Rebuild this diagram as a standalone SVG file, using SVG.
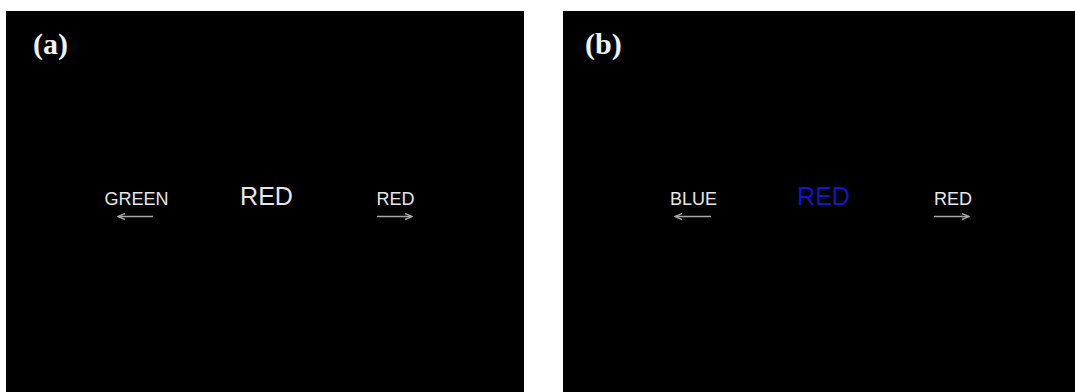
<svg xmlns="http://www.w3.org/2000/svg" width="1075" height="392" viewBox="0 0 1075 392">
<style>
.panel{fill:#000}
.lbl{font-family:"Liberation Serif","Times New Roman",serif;font-weight:bold;font-size:30px;fill:#f2f2f2}
.word{font-family:"Liberation Sans",Arial,sans-serif;font-size:18px;fill:#e6e6e6;text-anchor:middle}
.big{font-size:25px}
.arrow{stroke:#a8a8a8;stroke-width:1.5;fill:none}
</style>
<defs>
<marker id="head" viewBox="0 0 8 8" refX="7" refY="4" markerWidth="8" markerHeight="8" markerUnits="userSpaceOnUse" orient="auto">
<path d="M0,1 L7,4 L0,7" fill="none" stroke="#a8a8a8" stroke-width="1.4"/>
</marker>
</defs>
<rect width="1075" height="392" fill="#fff"/>
<g id="panel-a">
<rect class="panel" x="6" y="11" width="518" height="381"/>
<text class="lbl" x="33" y="54">(a)</text>
</g>
<g id="panel-b">
<rect class="panel" x="563" y="11" width="512" height="381"/>
<text class="lbl" x="585" y="54">(b)</text>
</g>
<g id="word-a-left"><text class="word" x="136.5" y="205">GREEN</text></g>
<g id="word-a-center"><text class="word big" x="266.5" y="204.5">RED</text></g>
<g id="word-a-right"><text class="word" x="395.5" y="205">RED</text></g>
<g id="word-b-left"><text class="word" x="693.5" y="205">BLUE</text></g>
<g id="word-b-center"><text class="word big" x="823.5" y="204.5" style="fill:#1414c8">RED</text></g>
<g id="word-b-right"><text class="word" x="953" y="205">RED</text></g>
<g id="connectors">
<line class="arrow" x1="153" y1="216.5" x2="118" y2="216.5" marker-end="url(#head)"/>
<line class="arrow" x1="377" y1="216.5" x2="412" y2="216.5" marker-end="url(#head)"/>
<line class="arrow" x1="711" y1="216.5" x2="675" y2="216.5" marker-end="url(#head)"/>
<line class="arrow" x1="934" y1="216.5" x2="969" y2="216.5" marker-end="url(#head)"/>
</g>
</svg>
